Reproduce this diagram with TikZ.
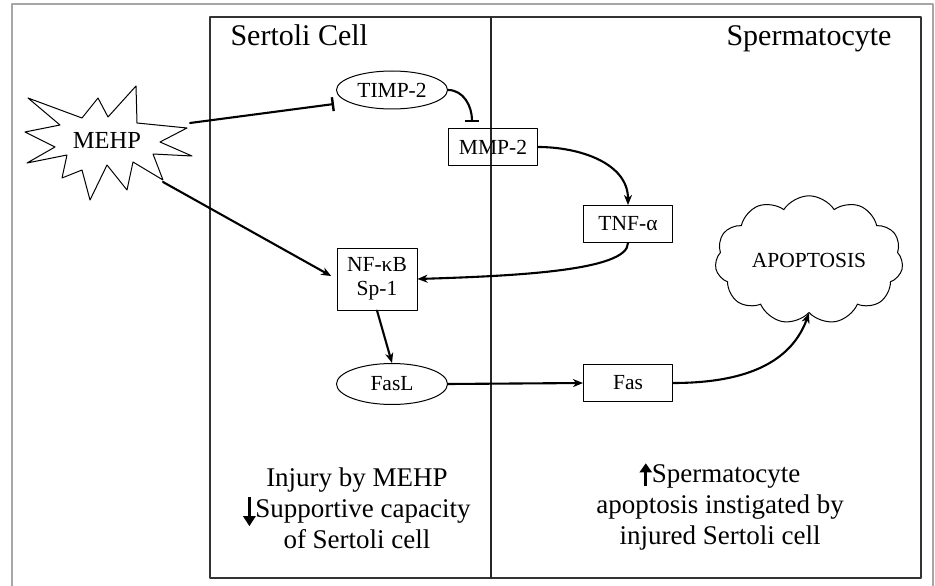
\documentclass[tikz,border=0pt]{standalone}
\usepackage{fontspec}
\setmainfont{Liberation Serif}
\usetikzlibrary{arrows.meta,shapes.symbols,shapes.geometric}
\newcommand{\dnarrow}{\tikz[x=1pt,y=1pt,baseline=0pt]{\draw[line width=2.6pt,-{Triangle[length=10pt,width=12pt]}] (6,20) -- (6,-9);}}
\newcommand{\uparr}{\tikz[x=1pt,y=1pt,baseline=0pt]{\draw[line width=2.6pt,-{Triangle[length=9pt,width=12pt]}] (6,-4) -- (6,19);}}

\begin{document}
\begin{tikzpicture}[x=1pt,y=-1pt,line cap=round,line join=round,
	box/.style={draw,line width=1pt,minimum width=89pt,minimum height=37pt,inner sep=0pt,font=\fontsize{21.5}{24}\selectfont},
	oval/.style={draw,ellipse,line width=1pt,minimum width=111pt,minimum height=38pt,inner sep=0pt,font=\fontsize{21.5}{24}\selectfont},
	act/.style={line width=2.1pt,-{Stealth[length=10pt,width=8pt,inset=3pt]}},
	inh/.style={line width=2.1pt,-{Bar[width=14pt,line width=2.4pt]}},
	note/.style={align=center,font=\fontsize{27}{31}\selectfont}]
	\useasboundingbox (0,0) rectangle (935,586);
	\draw [gray!70,line width=1.2pt] (12,586) -- (12,4) -- (933,4) -- (933,586);
	\draw [black!80,line width=1.2pt] (210,17) rectangle (921,578);
	\draw [black!85,line width=1.2pt] (491,17) -- (491,578);
	
	\node[anchor=base west,font=\fontsize{30}{30}\selectfont] (sertoli) at (227,46) {Sertoli Cell};
	\node[anchor=base east,font=\fontsize{30}{30}\selectfont] (sperm) at (895,46) {Spermatocyte};
	
	\draw [line width=1pt] (28,98) -- (82,118) -- (98,98) -- (108,117) -- (136,86) -- (137,123) -- (187,128) -- (160,142) -- (192,156) -- (153,154) -- (163,180) -- (133,162) -- (127,190) -- (107,165) -- (90,200) -- (82,170) -- (62,178) -- (67,155) -- (27,163) -- (55,147) -- (25,132) -- (60,125) -- cycle;
	\node[font=\fontsize{24.5}{24}\selectfont] (mehp) at (107,140) {MEHP};
	\coordinate (mehp-r) at (190,123);
	\coordinate (mehp-d) at (163,182);
	
	\node[oval] (timp) at (392,90) {TIMP-2};
	\node[box] (mmp) at (493,147) {MMP-2};
	\node[box] (tnf) at (628,224) {TNF-α};
	\node[box,minimum width=80pt,minimum height=62pt,align=center] (nfkb) at (377,279) {NF-κB\\Sp-1};
	\node[oval,minimum height=41pt] (fasl) at (392,384) {FasL};
	\node[box] (fas) at (628,383) {Fas};
	\node[draw,cloud,cloud puffs=11,cloud puff arc=115,aspect=1.5,line width=1pt,minimum width=188pt,minimum height=127pt,inner sep=0pt,font=\fontsize{21.5}{24}\selectfont] (apop) at (809,260) {APOPTOSIS};
	
	\coordinate (timp-bar) at ([xshift=-2pt,yshift=-14pt]timp.west);
	\coordinate (mmp-bar) at ([xshift=-21pt,yshift=6pt]mmp.north);
	
	\draw [inh] (mehp-r) -- (timp-bar);
	\draw [inh] (timp.east) to[out=0,in=90] (mmp-bar);
	\draw [act] (mmp.east) to[out=0,in=90] (tnf.north);
	\draw [act] (tnf.south) .. controls +(0,28) and +(95,-3) .. (nfkb.east);
	\draw [act,shorten >=6pt] (mehp-d) -- (nfkb.west);
	\draw [act] (nfkb.south) -- (fasl.north);
	\draw [act] (fasl.east) -- (fas.west);
	\draw [act] (fas.east) to[out=0,in=-110] (apop.south);
	
	\node[note] (injury) at (357,508) {Injury by MEHP\\\dnarrow Supportive capacity\\of Sertoli cell};
	\node[note] (result) at (720,506) {\uparr Spermatocyte\\apoptosis instigated by\\injured Sertoli cell};
\end{tikzpicture}
\end{document}
